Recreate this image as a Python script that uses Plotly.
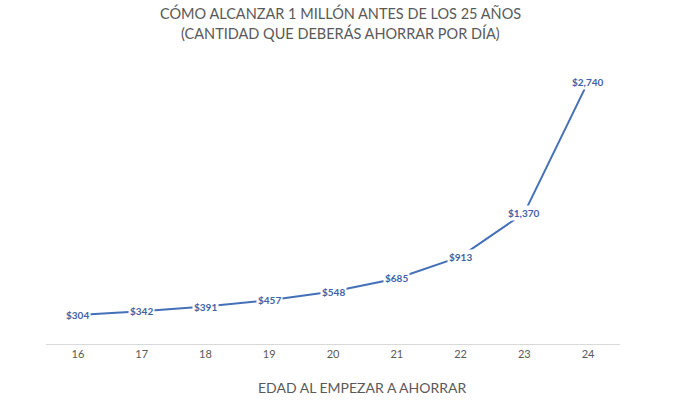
import plotly.graph_objects as go

edades = ["16", "17", "18", "19", "20", "21", "22", "23", "24"]
ahorro_diario = [304, 342, 391, 457, 548, 685, 913, 1370, 2740]
etiquetas = ["$304", "$342", "$391", "$457", "$548", "$685", "$913", "$1,370", "$2,740"]

LINE = "#4470B8"
TXT = "#595959"
FONT = "Lato, Open Sans, sans-serif"

fig = go.Figure()
fig.add_trace(go.Scatter(x=edades, y=ahorro_diario, mode="lines",
                         line=dict(color=LINE, width=2), hoverinfo="skip"))

for i, (v, t) in enumerate(zip(ahorro_diario, etiquetas)):
    fig.add_annotation(x=i, y=v, text="<b>" + t.replace("$", "&#36;") + "</b>",
                       showarrow=False, xref="x", yref="y", bgcolor="white",
                       borderpad=1,
                       font=dict(family=FONT, size=10, color="#3F62A6"))

fig.add_annotation(x=0.55, y=-0.115, xref="paper", yref="paper",
                   text="EDAD AL EMPEZAR A AHORRAR", showarrow=False,
                   yanchor="top",
                   font=dict(family=FONT, size=14, color=TXT))

for txt, yy in [("CÓMO ALCANZAR 1 MILLÓN ANTES DE LOS 25 AÑOS", 1.153),
                ("(CANTIDAD QUE DEBERÁS AHORRAR POR DÍA)", 1.084)]:
    fig.add_annotation(x=(340 - 46) / 574, y=yy, xref="paper", yref="paper",
                       text=txt, showarrow=False, xanchor="center", yanchor="middle",
                       font=dict(family=FONT, size=14.5, color=TXT))

fig.update_layout(
    width=680, height=400,
    margin=dict(l=46, r=60, t=57, b=56),
    paper_bgcolor="white", plot_bgcolor="white",
    showlegend=False,
    xaxis=dict(type="category", range=[-0.5, 8.5], showgrid=False,
               showline=True, linecolor="#D9D9D9", linewidth=1,
               ticks="", tickfont=dict(family=FONT, size=11, color=TXT)),
    yaxis=dict(range=[0, 3000], showgrid=False, showticklabels=False,
               zeroline=False, showline=False),
)

fig.write_html("out.html")
